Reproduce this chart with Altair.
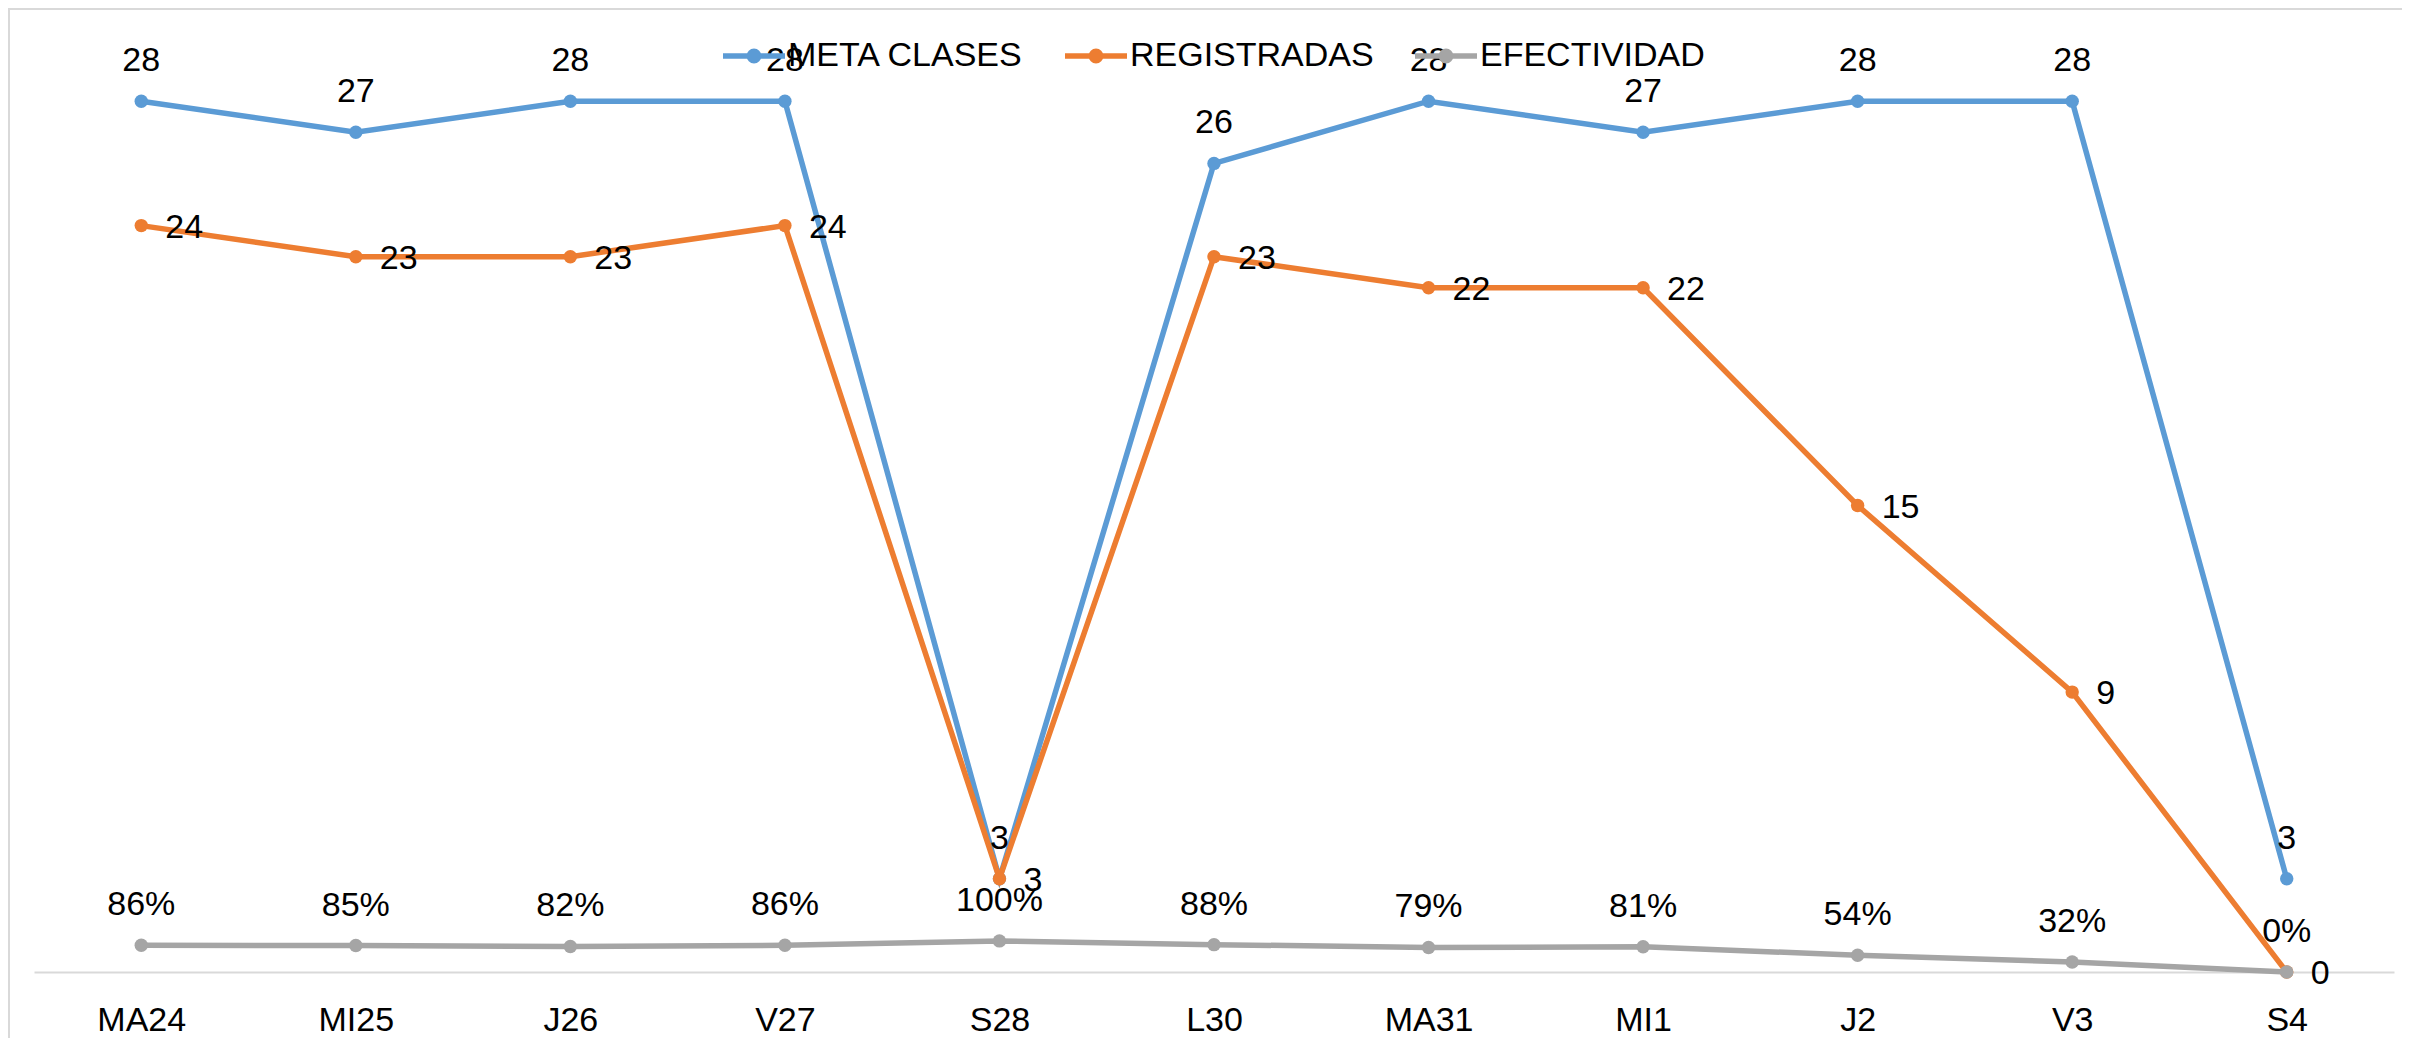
import altair as alt
import pandas as pd

categories = ["MA24", "MI25", "J26", "V27", "S28", "L30", "MA31", "MI1", "J2", "V3", "S4"]
meta = [28, 27, 28, 28, 3, 26, 28, 27, 28, 28, 3]
registradas = [24, 23, 23, 24, 3, 23, 22, 22, 15, 9, 0]
efectividad = [0.86, 0.85, 0.82, 0.86, 1.00, 0.88, 0.79, 0.81, 0.54, 0.32, 0.00]

series_names = ["META CLASES", "REGISTRADAS", "EFECTIVIDAD"]
series_colors = ["#5B9BD5", "#ED7D31", "#A5A5A5"]

rows = []
for name, vals in zip(series_names, [meta, registradas, efectividad]):
    for c, v in zip(categories, vals):
        label = f"{round(v * 100)}%" if name == "EFECTIVIDAD" else str(v)
        rows.append({"cat": c, "serie": name, "valor": v, "etiqueta": label})
df = pd.DataFrame(rows)

FONT = "Liberation Sans, Arial, sans-serif"
FS = 34

x = alt.X(
    "cat:N",
    sort=categories,
    scale=alt.Scale(type="point", padding=0.5),
    axis=alt.Axis(
        title=None, ticks=False, domainColor="#D9D9D9", domainWidth=2,
        labelFont=FONT, labelFontSize=FS, labelColor="black",
        labelPadding=31, labelAngle=0, grid=False,
    ),
)
y = alt.Y("valor:Q", scale=alt.Scale(domain=[0, 30], nice=False), axis=None)

legend = alt.Legend(
    title=None, orient="none", legendX=686, legendY=-17, direction="horizontal",
    symbolType="M-1,0L1,0M-0.15,0A0.15,0.15 0 1,1 0.15,0A0.15,0.15 0 1,1 -0.15,0ZM-0.05,0A0.05,0.05 0 1,1 0.05,0A0.05,0.05 0 1,1 -0.05,0Z",
    symbolSize=3844, symbolStrokeWidth=5.5, labelFont=FONT, labelFontSize=FS,
    labelColor="black", labelOffset=0, columnPadding=30, padding=0, labelLimit=500,
)
color = alt.Color("serie:N", scale=alt.Scale(domain=series_names, range=series_colors), legend=legend)

base = alt.Chart(df)

border_data = alt.Data(values=[{"k": 1}])
top_rule = alt.Chart(border_data).mark_rule(color="#D9D9D9", strokeWidth=2).encode(
    x=alt.value(-26), x2=alt.value(2368), y=alt.value(-30)
)
left_rule = alt.Chart(border_data).mark_rule(color="#D9D9D9", strokeWidth=2).encode(
    x=alt.value(-25), y=alt.value(-30), y2=alt.value(1007)
)

line_layers = []
for name in series_names:
    line_layers.append(
        base.transform_filter(alt.datum.serie == name)
        .mark_line(strokeWidth=5.5, point=alt.OverlayMarkDef(size=180, filled=True, opacity=1))
        .encode(x=x, y=y, color=color)
    )

txt = dict(font=FONT, fontSize=FS, color="black")
meta_text = base.transform_filter(alt.datum.serie == "META CLASES").mark_text(
    dy=-40, align="center", baseline="middle", **txt
).encode(x=x, y=y, text="etiqueta:N")
reg_text = base.transform_filter(alt.datum.serie == "REGISTRADAS").mark_text(
    dx=24, dy=2, align="left", baseline="middle", **txt
).encode(x=x, y=y, text="etiqueta:N")
efe_text = base.transform_filter(alt.datum.serie == "EFECTIVIDAD").mark_text(
    dy=-40, align="center", baseline="middle", **txt
).encode(x=x, y=y, text="etiqueta:N")

chart = alt.layer(
    top_rule, left_rule, *line_layers, meta_text, reg_text, efe_text
).properties(
    width=2360, height=933,
    autosize=alt.AutoSizeParams(type="none"),
    padding={"left": 26, "top": 31, "right": 8, "bottom": 66},
).configure_view(stroke=None)

chart.save("out.html", embed_options={"renderer": "svg", "actions": False})
